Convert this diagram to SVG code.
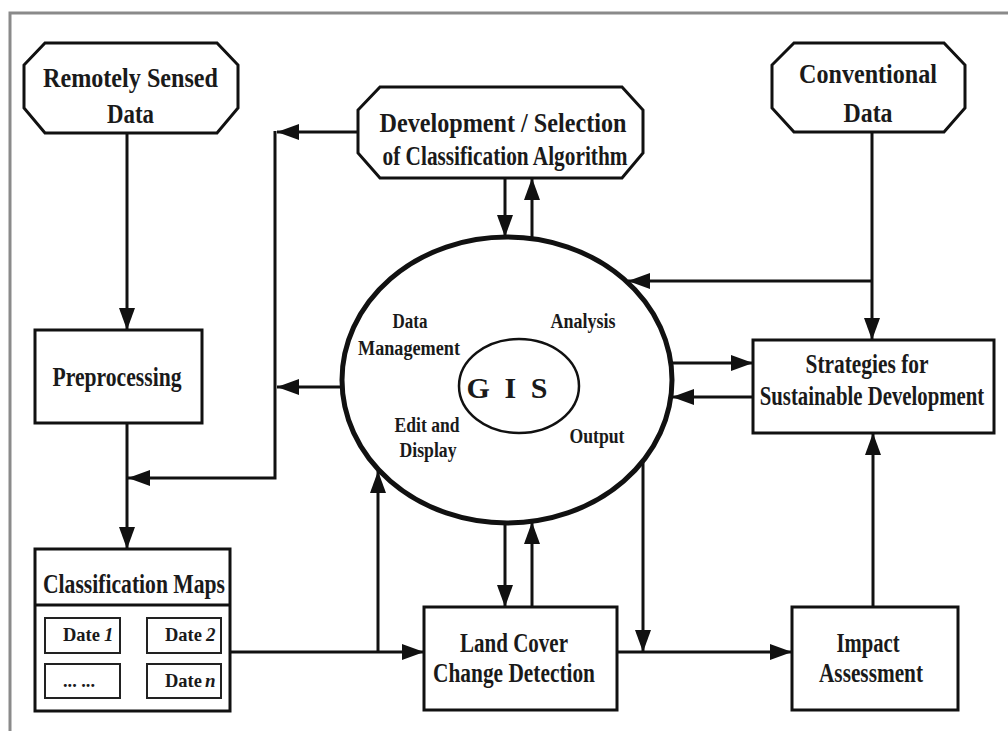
<svg xmlns="http://www.w3.org/2000/svg" width="1008" height="731" viewBox="0 0 1008 731">
<style>
text{font-family:"Liberation Serif","Times New Roman",serif;font-weight:bold;fill:#1a1a1a;text-anchor:middle}
.lbl{font-size:27px}
.sm{font-size:20px}
.dt{font-size:19px;text-anchor:start}
.box{fill:#fff;stroke:#111;stroke-width:3}
.ib{fill:#fff;stroke:#222;stroke-width:2}
.con{fill:none;stroke:#111;stroke-width:3}
</style>
<defs>
<marker id="ah" markerUnits="userSpaceOnUse" markerWidth="22" markerHeight="16" refX="22" refY="8" orient="auto">
<path d="M0,0 L22,8 L0,16 z" fill="#111"/>
</marker>
</defs>
<rect x="0" y="0" width="1008" height="731" fill="#fff"/>
<rect x="10" y="13" width="1010" height="740" fill="none" stroke="#8a8a8a" stroke-width="3"/>

<g id="connectors">
<path class="con" d="M127,133 V330" marker-end="url(#ah)"/>
<path class="con" d="M127,423 V549" marker-end="url(#ah)"/>
<path class="con" d="M358,132 H277" marker-end="url(#ah)"/>
<path class="con" d="M342,387 H277" marker-end="url(#ah)"/>
<path class="con" d="M275,131 V478 H128" marker-end="url(#ah)"/>
<path class="con" d="M505,178 V237" marker-end="url(#ah)"/>
<path class="con" d="M532,237 V178" marker-end="url(#ah)"/>
<path class="con" d="M872,132 V340" marker-end="url(#ah)"/>
<path class="con" d="M872,281 H628" marker-end="url(#ah)"/>
<path class="con" d="M670,363 H753" marker-end="url(#ah)"/>
<path class="con" d="M753,397 H672" marker-end="url(#ah)"/>
<path class="con" d="M873,607 V433" marker-end="url(#ah)"/>
<path class="con" d="M505,522 V607" marker-end="url(#ah)"/>
<path class="con" d="M532,607 V522" marker-end="url(#ah)"/>
<path class="con" d="M230,652 H424" marker-end="url(#ah)"/>
<path class="con" d="M378,652 V471" marker-end="url(#ah)"/>
<path class="con" d="M617,652 H792" marker-end="url(#ah)"/>
<path class="con" d="M643,461 V652" marker-end="url(#ah)"/>
</g>

<g id="remotely-sensed">
<polygon class="box" points="45,43 217,43 238,65 238,108 217,133 45,133 24,108 24,65"/>
<text class="lbl" x="130.5" y="87" textLength="175" lengthAdjust="spacingAndGlyphs">Remotely Sensed</text>
<text class="lbl" x="130.5" y="123" textLength="47" lengthAdjust="spacingAndGlyphs">Data</text>
</g>

<g id="development">
<polygon class="box" points="380,87 622,87 643,110 643,153 622,178 380,178 358,153 358,110"/>
<text class="lbl" x="503" y="132" textLength="247" lengthAdjust="spacingAndGlyphs">Development / Selection</text>
<text class="lbl" x="505" y="165" textLength="245" lengthAdjust="spacingAndGlyphs">of Classification Algorithm</text>
</g>

<g id="conventional">
<polygon class="box" points="794,43 944,43 965,65 965,108 944,132 794,132 772,108 772,65"/>
<text class="lbl" x="868" y="83" textLength="138" lengthAdjust="spacingAndGlyphs">Conventional</text>
<text class="lbl" x="868" y="122" textLength="49" lengthAdjust="spacingAndGlyphs">Data</text>
</g>

<g id="preprocessing">
<rect class="box" x="35" y="330" width="167" height="93"/>
<text class="lbl" x="117" y="386" textLength="129" lengthAdjust="spacingAndGlyphs">Preprocessing</text>
</g>

<g id="gis">
<ellipse cx="507" cy="380" rx="165" ry="143" fill="#fff" stroke="#111" stroke-width="5"/>
<ellipse cx="519" cy="386" rx="60" ry="47" fill="none" stroke="#111" stroke-width="2.5"/>
<text style="font-size:30px" x="507" y="398" textLength="81" lengthAdjust="spacing">G I S</text>
<text class="sm" x="410" y="328" textLength="35" lengthAdjust="spacingAndGlyphs">Data</text>
<text class="sm" x="409" y="355" textLength="102" lengthAdjust="spacingAndGlyphs">Management</text>
<text class="sm" x="583" y="328" textLength="65" lengthAdjust="spacingAndGlyphs">Analysis</text>
<text class="sm" x="427" y="432" textLength="65" lengthAdjust="spacingAndGlyphs">Edit and</text>
<text class="sm" x="428" y="457" textLength="57" lengthAdjust="spacingAndGlyphs">Display</text>
<text class="sm" x="597" y="443" textLength="55" lengthAdjust="spacingAndGlyphs">Output</text>
</g>

<g id="strategies">
<rect class="box" x="753" y="340" width="241" height="93"/>
<text class="lbl" x="867" y="373" textLength="123" lengthAdjust="spacingAndGlyphs">Strategies for</text>
<text class="lbl" transform="translate(872 405) scale(0.77 1)" x="0" y="0">Sustainable Development</text>
</g>

<g id="classification-maps">
<rect class="box" x="35" y="549" width="195" height="162"/>
<line x1="35" y1="605" x2="230" y2="605" stroke="#111" stroke-width="3"/>
<text class="lbl" x="134" y="593" textLength="182" lengthAdjust="spacingAndGlyphs">Classification Maps</text>
<rect class="ib" x="45" y="618" width="75" height="35"/>
<rect class="ib" x="147" y="618" width="74" height="35"/>
<rect class="ib" x="45" y="664" width="75" height="34"/>
<rect class="ib" x="147" y="664" width="74" height="34"/>
<text class="dt" x="63" y="641" textLength="37" lengthAdjust="spacingAndGlyphs">Date</text>
<text class="dt" x="104" y="641" font-style="italic">1</text>
<text class="dt" x="165" y="641" textLength="37" lengthAdjust="spacingAndGlyphs">Date</text>
<text class="dt" x="206" y="641" font-style="italic">2</text>
<text class="dt" x="63" y="687" textLength="32" lengthAdjust="spacingAndGlyphs">... ...</text>
<text class="dt" x="165" y="687" textLength="37" lengthAdjust="spacingAndGlyphs">Date</text>
<text class="dt" x="205" y="687" font-style="italic">n</text>
</g>

<g id="land-cover">
<rect class="box" x="424" y="607" width="193" height="103"/>
<text class="lbl" x="514" y="652" textLength="108" lengthAdjust="spacingAndGlyphs">Land Cover</text>
<text class="lbl" x="514" y="682" textLength="162" lengthAdjust="spacingAndGlyphs">Change Detection</text>
</g>

<g id="impact">
<rect class="box" x="792" y="607" width="166" height="103"/>
<text class="lbl" x="868" y="652" textLength="63" lengthAdjust="spacingAndGlyphs">Impact</text>
<text class="lbl" x="871" y="682" textLength="104" lengthAdjust="spacingAndGlyphs">Assessment</text>
</g>
</svg>
